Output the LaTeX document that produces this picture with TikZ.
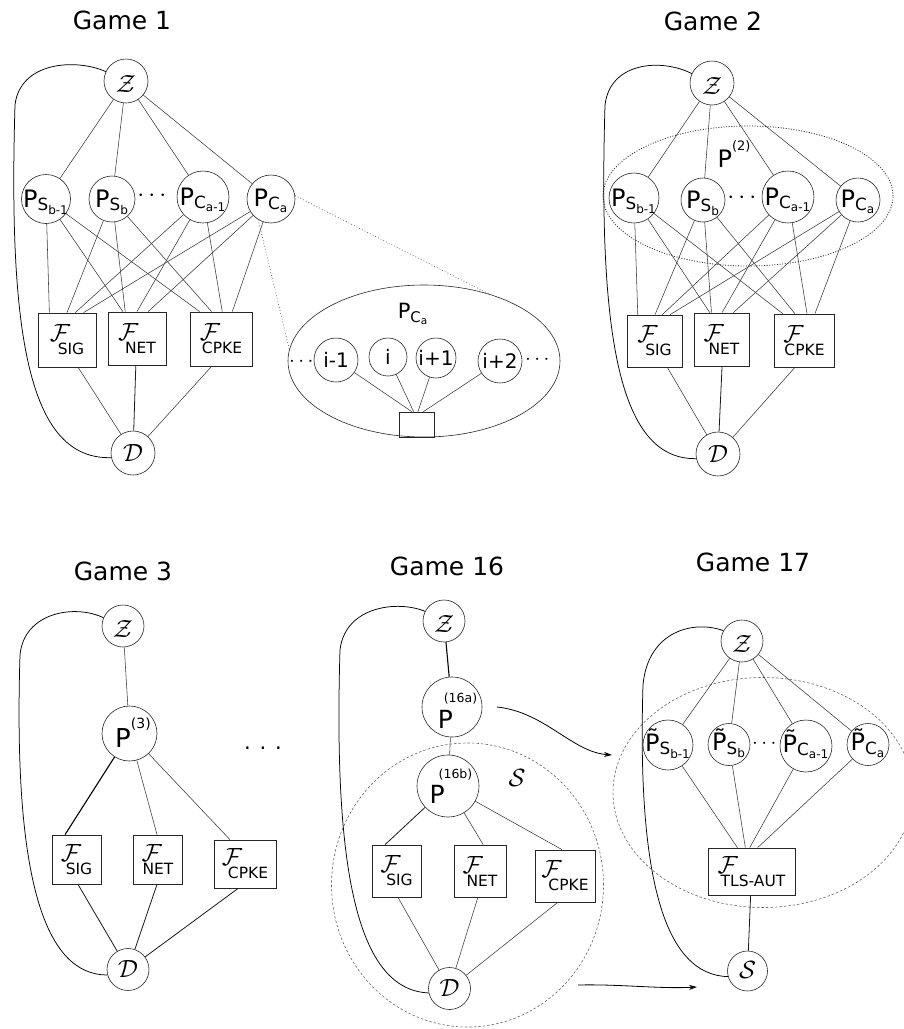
\documentclass[tikz,border=0pt]{standalone}
\usepackage{amsmath}
\usepackage{fontspec}
\setmainfont{DejaVu Sans}
\usetikzlibrary{shapes.geometric,arrows.meta,calc}
\newcommand\fs[1]{\fontsize{#1}{#1}\selectfont}
\newcommand\zw[1]{\makebox[0pt]{#1}}
\newcommand\Ps[2]{\fs{24}$\text{P}_{\text{#1}_{\text{#2}}}$}
\newcommand\Pt[2]{\fs{24}$\text{P^^^^0303}_{\text{#1}_{\text{#2}}}$}
\newcommand\Fb[2]{{\fs{29}\rlap{$\mathcal{F}$}}\hspace{#1pt}\raisebox{-13pt}{\fs{15.5}#2}}
\newcommand\Cl[1]{\fs{25}$\mathcal{#1}$}
\begin{document}
\begin{tikzpicture}[x=1pt,y=-1pt,
  pn/.style={circle,draw=black!85,line width=0.6pt,inner sep=0pt},
  fb/.style={rectangle,draw=black!85,line width=0.8pt,inner sep=0pt},
  bl/.style={text height=#1,text depth=0pt},
  edge/.style={draw=black!78,line width=0.55pt},
  dk/.style={draw=black!90,line width=0.8pt},
  thk/.style={draw=black,line width=1.1pt},
  loopl/.style={draw=black,line width=0.75pt},
  title/.style={font=\fs{25},anchor=base},
  dotl/.style={draw=black!70,line width=0.6pt,dash pattern=on 0.8pt off 2.2pt},
  dots2/.style={draw=black!85,line width=0.8pt,dash pattern=on 1pt off 1.6pt},
  dsh/.style={draw=black!60,line width=0.6pt,dash pattern=on 2.5pt off 2pt},
  arr/.style={draw=black,line width=0.8pt,-{Stealth[length=8pt,width=5pt]}},
]
\useasboundingbox (0,0) rectangle (904,1029);

% ================= Game 1 =================
\node[title] (t1) at (122,29) {Game 1};
\node[pn,minimum size=44pt,bl=22pt] (Z1) at (126,81) {\zw{\Cl{Z}}};
\node[pn,minimum size=49pt,bl=16pt] (A1) at (46,199) {\zw{\Ps{S}{b-1}}};
\node[pn,minimum size=46pt,bl=16pt] (B1) at (112,199) {\zw{\Ps{S}{b}}};
\node[anchor=base] (g1dots) at (154,201) {\fs{24}$\cdots$};
\node[pn,minimum size=52pt,bl=16pt] (C1) at (203,197) {\zw{\Ps{C}{a-1}}};
\node[pn,minimum size=48pt,bl=14pt] (D1) at (271,199) {\zw{\Ps{C}{a}}};
\node[fb,minimum width=58pt,minimum height=54pt] (SIG1) at (67,340) {\Fb{8}{SIG}};
\node[fb,minimum width=58pt,minimum height=53pt] (NET1) at (137,338.5) {\Fb{7}{NET}};
\node[fb,minimum width=62pt,minimum height=54pt] (CPKE1) at (221,339) {\Fb{2}{CPKE}};
\node[pn,minimum size=44pt,bl=16pt] (Dd1) at (133,453) {\zw{\Cl{D}}};
\foreach \n in {A1,B1,C1,D1} \draw[edge] (Z1) -- (\n);
\foreach \p/\u/\v/\w in {A1/0.2/0.26/0.16,B1/0.5/0.3/0.35,C1/0.64/0.5/0.52,D1/0.78/0.69/0.68}{
  \draw[edge] (\p) -- ($(SIG1.north west)!\u!(SIG1.north east)$);
  \draw[edge] (\p) -- ($(NET1.north west)!\v!(NET1.north east)$);
  \draw[edge] (\p) -- ($(CPKE1.north west)!\w!(CPKE1.north east)$);
}
\draw[edge] ($(SIG1.south west)!0.69!(SIG1.south east)$) -- (Dd1);
\draw[dk] ($(NET1.south west)!0.48!(NET1.south east)$) -- (Dd1);
\draw[edge] ($(CPKE1.south west)!0.35!(CPKE1.south east)$) -- (Dd1);
\draw[loopl] (Z1.155) .. controls (75,58) and (20,62) .. (15,105)
  .. controls (8,340) and (30,460) .. (Dd1.192);

% inset
\node[ellipse,draw=black!85,line width=0.6pt,minimum width=272pt,minimum height=152pt,inner sep=0pt] (inset) at (424,361) {};
\node (pca) at (413,314) {\fs{21}$\text{P}_{\text{C}_{\text{a}}}$};
\node[pn,minimum size=44pt] (i1) at (336,360) {\zw{\fs{20}i-1}};
\node[pn,minimum size=38pt] (i2) at (388,357) {\zw{\fs{20}i}};
\node[pn,minimum size=40pt] (i3) at (436,358) {\zw{\fs{20}i+1}};
\node[pn,minimum size=44pt] (i4) at (500,361) {\zw{\fs{20}i+2}};
\node[anchor=base] (indl) at (303,366.5) {\fs{20}$\cdots$};
\node[anchor=base] (indr) at (539,364.5) {\fs{20}$\cdots$};
\node[rectangle,draw=black!85,line width=0.6pt,minimum width=35pt,minimum height=25pt,inner sep=0pt] (sb) at (416.5,424.5) {};
\foreach \p/\u in {i1/0.37,i2/0.42,i3/0.54,i4/0.69}
  \draw[edge] (\p) -- ($(sb.north west)!\u!(sb.north east)$);
\draw[dotl] (D1.8) -- (inset.46);
\draw[dotl] (D1.238) -- (inset.175);

% ================= Game 2 =================
\node[title] (t2) at (713,30) {Game 2};
\node[ellipse,dots2,minimum width=290pt,minimum height=140pt,inner sep=0pt] (E2) at (748,196) {};
\node[inner sep=0pt] (p2) at (734,154) {\fs{24}P\raisebox{17.5pt}{\fs{13}(2)}};
\node[pn,minimum size=44pt,bl=22pt] (Z2) at (712,83) {\zw{\Cl{Z}}};
\node[pn,minimum size=50pt,bl=16pt] (A2) at (634,198) {\zw{\Ps{S}{b-1}}};
\node[pn,minimum size=44pt,bl=16pt] (B2) at (703,200) {\zw{\Ps{S}{b}}};
\node[anchor=base] (g2dots) at (744,203) {\fs{24}$\cdots$};
\node[pn,minimum size=52pt,bl=16pt] (C2) at (788,197) {\zw{\Ps{C}{a-1}}};
\node[pn,minimum size=44pt,bl=14pt] (D2) at (858,200) {\zw{\Ps{C}{a}}};
\node[fb,minimum width=55pt,minimum height=52pt] (SIG2) at (654.5,341) {\Fb{8}{SIG}};
\node[fb,minimum width=55pt,minimum height=53pt] (NET2) at (721.5,339.5) {\Fb{5}{NET}};
\node[fb,minimum width=60pt,minimum height=53pt] (CPKE2) at (804,340.5) {\Fb{1}{CPKE}};
\node[pn,minimum size=44pt,bl=16pt] (Dd2) at (718,454) {\zw{\Cl{D}}};
\foreach \n in {A2,B2,C2,D2} \draw[edge] (Z2) -- (\n);
\foreach \p/\u/\v/\w in {A2/0.2/0.29/0.15,B2/0.51/0.32/0.35,C2/0.64/0.51/0.55,D2/0.78/0.71/0.68}{
  \draw[edge] (\p) -- ($(SIG2.north west)!\u!(SIG2.north east)$);
  \draw[edge] (\p) -- ($(NET2.north west)!\v!(NET2.north east)$);
  \draw[edge] (\p) -- ($(CPKE2.north west)!\w!(CPKE2.north east)$);
}
\draw[edge] ($(SIG2.south west)!0.73!(SIG2.south east)$) -- (Dd2);
\draw[dk] ($(NET2.south west)!0.51!(NET2.south east)$) -- (Dd2);
\draw[edge] ($(CPKE2.south west)!0.35!(CPKE2.south east)$) -- (Dd2);
\draw[loopl] (Z2.155) .. controls (661,58) and (610,62) .. (605,105)
  .. controls (598,340) and (620,460) .. (Dd2.192);

% ================= Game 3 =================
\node[title] (t3) at (123,580) {Game 3};
\node[pn,minimum size=42pt,bl=22pt] (Z3) at (123,626) {\zw{\Cl{Z}}};
\node[pn,minimum size=55pt,bl=27pt] (P3) at (129.5,733.5) {\zw{\hspace*{7pt}\fs{26}P\raisebox{19pt}{\fs{14}(3)}}};
\node[anchor=base] (g3dots) at (263,749) {\fs{21}. . .};
\node[fb,minimum width=49pt,minimum height=49pt] (SIG3) at (76.5,859.5) {\Fb{5}{SIG}};
\node[fb,minimum width=49pt,minimum height=49pt] (NET3) at (157.5,859.5) {\Fb{1}{NET}};
\node[fb,minimum width=62pt,minimum height=48pt] (CPKE3) at (245,864) {\Fb{6}{CPKE}};
\node[pn,minimum size=42pt,bl=15pt] (Dd3) at (128,969.5) {\zw{\Cl{D}}};
\draw[edge] (Z3) -- (P3);
\draw[thk] (P3) -- ($(SIG3.north west)!0.27!(SIG3.north east)$);
\draw[edge] (P3) -- ($(NET3.north west)!0.49!(NET3.north east)$);
\draw[edge] (P3) -- ($(CPKE3.north west)!0.26!(CPKE3.north east)$);
\draw[dk] ($(SIG3.south west)!0.53!(SIG3.south east)$) -- (Dd3);
\draw[dk] ($(NET3.south west)!0.49!(NET3.south east)$) -- (Dd3);
\draw[dk] ($(CPKE3.south west)!0.39!(CPKE3.south east)$) -- (Dd3);
\draw[loopl] (Z3.157) .. controls (75,604) and (24,612) .. (20,655)
  .. controls (13,880) and (45,975) .. (Dd3.195);

% ================= Game 16 =================
\node[title] (t16) at (447,575) {Game 16};
\node[ellipse,dsh,minimum width=272pt,minimum height=284pt,inner sep=0pt] (Sc) at (467.5,885) {};
\node (Slab) at (517,778) {\Cl{S}};
\node[pn,minimum size=42pt,bl=22pt] (Z16) at (444,621) {\zw{\Cl{Z}}};
\node[pn,minimum size=60pt,bl=42pt] (P16a) at (452,707) {\zw{\hspace*{11pt}\fs{25}\rlap{P}\hspace{6pt}\raisebox{26pt}{\fs{12.5}(16a)}}};
\node[pn,minimum size=62pt,bl=34pt] (P16b) at (448,786) {\zw{\hspace*{6pt}\fs{25}\rlap{P}\hspace{9pt}\raisebox{25pt}{\fs{12.5}(16b)}}};
\node[fb,minimum width=49pt,minimum height=52pt] (SIG16) at (396.5,871) {\Fb{6}{SIG}};
\node[fb,minimum width=52pt,minimum height=52pt] (NET16) at (480,871) {\Fb{4}{NET}};
\node[fb,minimum width=60pt,minimum height=52pt] (CPKE16) at (565,876) {\Fb{7}{CPKE}};
\node[pn,minimum size=42pt,bl=15pt] (Dd16) at (449.5,988.5) {\zw{\Cl{D}}};
\draw[thk] (Z16) -- (P16a);
\draw[edge] (P16a) -- (P16b);
\draw[dk] (P16b) -- ($(SIG16.north west)!0.27!(SIG16.north east)$);
\draw[edge] (P16b) -- ($(NET16.north west)!0.56!(NET16.north east)$);
\draw[edge] (P16b) -- ($(CPKE16.north west)!0.45!(CPKE16.north east)$);
\draw[edge] ($(SIG16.south west)!0.53!(SIG16.south east)$) -- (Dd16);
\draw[edge] ($(NET16.south west)!0.46!(NET16.south east)$) -- (Dd16);
\draw[edge] ($(CPKE16.south west)!0.38!(CPKE16.south east)$) -- (Dd16);
\draw[loopl] (Z16.153) .. controls (398,600) and (345,606) .. (340,650)
  .. controls (333,880) and (360,990) .. (Dd16.192);
\coordinate (a1s) at (497,707);
\coordinate (a1e) at (612,755);
\draw[arr] (a1s) .. controls (545,712) and (572,752) .. (a1e);
\coordinate (a2s) at (578,985);
\coordinate (a2e) at (697,987);
\draw[arr] (a2s) .. controls (620,984) and (660,989) .. (a2e);

% ================= Game 17 =================
\node[title] (t17) at (753,571) {Game 17};
\node[ellipse,dsh,minimum width=300pt,minimum height=230pt,inner sep=0pt] (E17) at (763,792.5) {};
\node[pn,minimum size=42pt,bl=22pt] (Z17) at (742,641) {\zw{\Cl{Z}}};
\node[pn,minimum size=50pt,bl=12pt] (A17) at (668,745) {\zw{\Pt{S}{b-1}}};
\node[pn,minimum size=42pt,bl=12pt] (B17) at (729,744.5) {\zw{\Pt{S}{b}}};
\node[anchor=base] (g17dots) at (766,748) {\fs{22}$\cdots$};
\node[pn,minimum size=52pt,bl=12pt] (C17) at (806,746) {\zw{\Pt{C}{a-1}}};
\node[pn,minimum size=42pt,bl=12pt] (D17) at (868,744.5) {\zw{\Pt{C}{a}}};
\node[fb,minimum width=87pt,minimum height=47pt] (TLS) at (751.5,871.5) {\Fb{3}{TLS-AUT}};
\node[pn,minimum size=40pt,bl=14pt] (S17) at (747.5,971) {\zw{\Cl{S}}};
\foreach \n in {A17,B17,C17,D17} \draw[edge] (Z17) -- (\n);
\foreach \p/\u in {A17/0.34,B17/0.43,C17/0.48,D17/0.57}
  \draw[edge] (\p) -- ($(TLS.north west)!\u!(TLS.north east)$);
\draw[dk] ($(TLS.south west)!0.49!(TLS.south east)$) -- (S17);
\draw[loopl] (Z17.151) .. controls (695,620) and (648,630) .. (643,685)
  .. controls (637,880) and (665,975) .. (S17.196);
\end{tikzpicture}
\end{document}
